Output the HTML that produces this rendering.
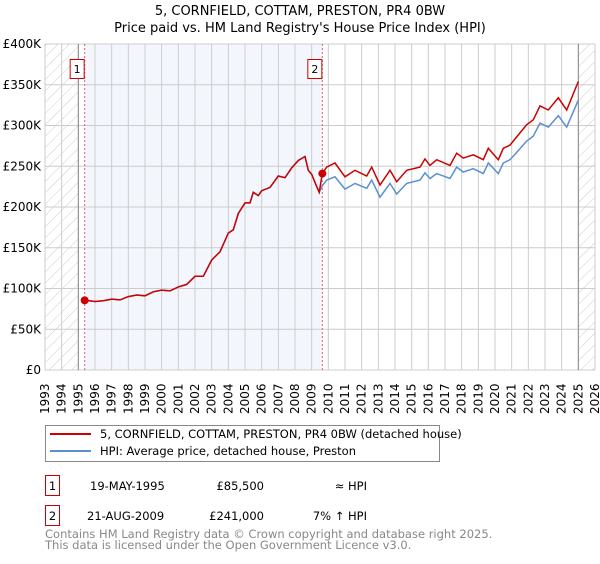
<!DOCTYPE html>
<html><head><meta charset="utf-8"><style>
body{margin:0;background:#fff;font-family:"DejaVu Sans","Liberation Sans",sans-serif;}
svg text{font-family:"DejaVu Sans","Liberation Sans",sans-serif;}
</style></head><body>
<svg id="chart" width="600" height="560" xmlns="http://www.w3.org/2000/svg">
<defs><pattern id="hatch" patternUnits="userSpaceOnUse" width="8" height="8" patternTransform="rotate(45)"><line x1="0" y1="0" x2="0" y2="8" stroke="#ccc" stroke-width="1"/></pattern></defs>
<text x="300" y="15" text-anchor="middle" font-size="13">5, CORNFIELD, COTTAM, PRESTON, PR4 0BW</text>
<text x="300" y="32" text-anchor="middle" font-size="13">Price paid vs. HM Land Registry's House Price Index (HPI)</text>
<g id="plot"></g>
<g>
<rect x="45.5" y="425.5" width="394" height="36" fill="#fff" stroke="#888"/>
<line x1="50" y1="434" x2="91" y2="434" stroke="#cc0000" stroke-width="2"/>
<text x="100" y="438" font-size="11.5">5, CORNFIELD, COTTAM, PRESTON, PR4 0BW (detached house)</text>
<line x1="50" y1="451" x2="91" y2="451" stroke="#5b8fd0" stroke-width="2"/>
<text x="100" y="455" font-size="11.5">HPI: Average price, detached house, Preston</text>
</g>
<g font-size="11.5">
<rect x="45.5" y="475.5" width="14" height="20" fill="none" stroke="#cc0000"/>
<text x="52.5" y="490" text-anchor="middle">1</text>
<text x="90" y="490">19-MAY-1995</text><text x="264" y="490" text-anchor="end">£85,500</text><text x="367" y="490" text-anchor="end">≈ HPI</text>
<rect x="45.5" y="505.5" width="14" height="20" fill="none" stroke="#cc0000"/>
<text x="52.5" y="520" text-anchor="middle">2</text>
<text x="87" y="520">21-AUG-2009</text><text x="264" y="520" text-anchor="end">£241,000</text><text x="367" y="520" text-anchor="end">7% ↑ HPI</text>
</g>
<text x="45" y="538" font-size="11.5" fill="#888">Contains HM Land Registry data © Crown copyright and database right 2025.</text>
<text x="45" y="549" font-size="11.5" fill="#888">This data is licensed under the Open Government Licence v3.0.</text>
</svg>
<script>
const yTicks=[0,50,100,150,200,250,300,350,400];
const yTickLabels=["£0","£50K","£100K","£150K","£200K","£250K","£300K","£350K","£400K"];
const xYears=[1993,1994,1995,1996,1997,1998,1999,2000,2001,2002,2003,2004,2005,2006,2007,2008,2009,2010,2011,2012,2013,2014,2015,2016,2017,2018,2019,2020,2021,2022,2023,2024,2025,2026];
const saleYears=[1995.38,2009.64];
const salePrices=[85.5,241];
const saleLabels=["1","2"];
const preYears=[1995.38,1996,1996.5,1997,1997.5,1998,1998.5,1999,1999.5,2000,2000.5,2001,2001.5,2002,2002.5,2003,2003.5,2004,2004.3,2004.6,2005,2005.3,2005.5,2005.8,2006,2006.5,2007,2007.4,2007.8,2008.2,2008.6,2008.8,2009.0,2009.3,2009.45];
const preVals=[85.5,84,85,87,86,90,92,91,96,98,97,102,105,115,115,135,145,168,172,192,205,205,218,214,220,224,238,236,248,257,262,245,240,225,218];
const postYears=[2009.64,2009.9,2010.4,2011,2011.6,2012.3,2012.6,2013.1,2013.7,2014.1,2014.7,2015.5,2015.8,2016.1,2016.5,2017.3,2017.7,2018.1,2018.7,2019.3,2019.6,2020.2,2020.5,2020.9,2021.3,2021.9,2022.3,2022.7,2023.2,2023.8,2024.3,2025.0];
const postRed=[241,249,254,237,245,238,249,227,245,231,245,249,259,251,258,251,266,260,264,258,272,258,272,276,286,301,307,324,319,334,319,354];
const postBlue=[226,233,237,222,229,223,233,212,229,216,229,233,242,235,241,235,249,243,247,241,254,241,254,258,267,281,287,303,298,312,298,331];
const L=45,R=595,T=44,B=370;
const xs=y=>L+(y-1993)*(R-L)/33;
const ys=v=>B-v*(B-T)/400;
const NS="http://www.w3.org/2000/svg";
const g=document.getElementById('plot');
function mk(tag,at,parent){const e=document.createElementNS(NS,tag);for(const k in at)e.setAttribute(k,at[k]);(parent||g).appendChild(e);return e;}
let e;
e=mk('rect',{x:xs(saleYears[0]),y:T,width:xs(saleYears[1])-xs(saleYears[0]),height:B-T,fill:'#eef3fc',opacity:0.7});


e=mk('rect',{x:L,y:T,width:xs(1995)-L,height:B-T,fill:'url(#hatch)'});


e=mk('rect',{x:xs(2025),y:T,width:R-xs(2025),height:B-T,fill:'url(#hatch)'});


xYears.forEach(y=>{
 e=mk('line',{x1:xs(y),x2:xs(y),y1:T,y2:B,stroke:'#ccc'});
 
 
 e=mk('text',{x:0,y:0,'font-size':12,transform:`translate(${xs(y)+4},${B+44}) rotate(-90)`});
 e.textContent=y;
 
 
});
yTicks.forEach((v,i)=>{
 e=mk('line',{x1:L,x2:R,y1:ys(v),y2:ys(v),stroke:'#ccc'});
 
 
 e=mk('text',{x:L-4,y:ys(v)+4,'font-size':12,'text-anchor':'end'});
 e.textContent=yTickLabels[i];
 
 
});
[1995,2025].forEach(y=>{e=mk('line',{x1:xs(y),x2:xs(y),y1:T,y2:B,stroke:'#888'});
 
 });
function path(xsArr,vals){return xsArr.map((y,i)=>(i?'L':'M')+xs(y).toFixed(1)+','+ys(vals[i]).toFixed(1)).join(' ');}
e=mk('path',{d:path(preYears.concat(postYears),preVals.concat(postBlue)),fill:'none',stroke:'#5b8fd0','stroke-width':1.5});


e=mk('path',{d:path(preYears.concat(postYears),preVals.concat(postRed)),fill:'none',stroke:'#cc0000','stroke-width':1.5});


saleYears.forEach((y,i)=>{
 e=mk('line',{x1:xs(y),x2:xs(y),y1:T,y2:B,stroke:'#e06060','stroke-dasharray':'2,2'});
 
 
 e=mk('circle',{cx:xs(y),cy:ys(salePrices[i]),r:4,fill:'#cc0000'});
 
 
 e=mk('rect',{x:xs(y)-14.5,y:59.5,width:14,height:19,fill:'#fff',stroke:'#cc0000'});
 
 
 e=mk('text',{x:xs(y)-7.5,y:73,'font-size':11,'text-anchor':'middle'});
 e.textContent=saleLabels[i];
 
 
});
</script>
</body></html>
